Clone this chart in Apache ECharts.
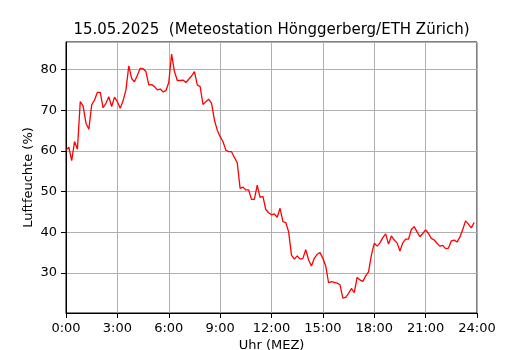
<!DOCTYPE html>
<html>
<head>
<meta charset="utf-8">
<script src="https://cdn.jsdelivr.net/npm/echarts@6/dist/echarts.min.js"></script>
<style>
html,body{margin:0;padding:0;background:#fff;}
#chart{width:530px;height:350px;}
</style>
</head>
<body>
<div id="chart"></div>
<script>
const titleText = '15.05.2025  (Meteostation Hönggerberg/ETH Zürich)';
const yAxisName = 'Luftfeuchte (%)';
const xAxisName = 'Uhr (MEZ)';
const stepMinutes = 10;
// relative humidity, 10-minute samples from 0:00 to 23:50
const humidity = [
  60.2, 60.9, 57.6, 62.3, 60.4, 72.1, 71.0, 66.8, 65.3, 71.3, 72.5, 74.4,
  74.4, 70.6, 71.7, 73.3, 70.9, 73.2, 72.1, 70.5, 72.3, 75.0, 80.9, 77.8,
  77.0, 78.6, 80.3, 80.2, 79.5, 76.2, 76.3, 75.8, 75.0, 75.2, 74.5, 74.8,
  76.8, 83.8, 79.5, 77.3, 77.3, 77.4, 76.8, 77.6, 78.4, 79.5, 76.2, 75.8,
  71.4, 72.1, 72.7, 71.7, 67.6, 65.1, 63.5, 62.3, 60.2, 59.8, 59.8, 58.4,
  57.1, 50.8, 51.1, 50.4, 50.4, 48.1, 48.1, 51.6, 48.6, 48.8, 45.6, 44.8,
  44.3, 44.5, 43.7, 45.9, 42.6, 42.4, 40.1, 34.4, 33.4, 34.2, 33.4, 33.6,
  35.7, 33.2, 31.7, 33.6, 34.6, 35.0, 33.6, 31.7, 27.6, 27.9, 27.7, 27.5,
  27.1, 23.8, 24.0, 25.0, 26.2, 25.2, 28.9, 28.3, 27.9, 29.3, 30.3, 34.4,
  37.3, 36.6, 37.4, 38.7, 39.6, 37.1, 39.1, 38.1, 37.4, 35.4, 37.4, 38.3,
  38.3, 40.7, 41.4, 40.1, 38.9, 39.7, 40.6, 39.7, 38.5, 38.1, 37.3, 36.6,
  36.8, 36.0, 36.1, 37.9, 38.1, 37.6, 38.8, 40.7, 42.8, 42.0, 41.1, 42.4
];
const xTickHours = [0, 3, 6, 9, 12, 15, 18, 21, 24];
const yTicks = [30, 40, 50, 60, 70, 80];

const seriesData = humidity.map((v, i) => [i * stepMinutes / 60, v]);

const chart = echarts.init(document.getElementById('chart'), null, {renderer: 'canvas'});
const font = 'DejaVu Sans';
chart.setOption({
  animation: false,
  backgroundColor: '#ffffff',
  title: {
    text: titleText,
    left: 271.5,
    top: 23,
    textAlign: 'center',
    padding: 0,
    textStyle: {fontFamily: font, fontSize: 15, fontWeight: 'normal', color: '#000'}
  },
  grid: {
    left: 66, right: 53, top: 42, bottom: 37,
    outerBoundsMode: 'none',
    containLabel: false,
    show: true, borderColor: '#000', borderWidth: 1, backgroundColor: 'transparent'
  },
  xAxis: {
    type: 'value',
    min: xTickHours[0],
    max: xTickHours[xTickHours.length - 1],
    interval: 3,
    name: xAxisName,
    nameLocation: 'middle',
    nameGap: 26,
    nameMoveOverlap: false,
    nameTextStyle: {fontFamily: font, fontSize: 13, color: '#000'},
    axisLine: {show: true, onZero: false, lineStyle: {color: '#000', width: 1}},
    axisTick: {show: true, inside: false, length: 5, lineStyle: {color: '#000'}},
    axisLabel: {
      margin: 9,
      fontFamily: font, fontSize: 13, color: '#000',
      formatter: v => Math.round(v) + ':00'
    },
    splitLine: {show: true, lineStyle: {color: '#b0b0b0', width: 1}}
  },
  yAxis: {
    type: 'value',
    min: 20.17,
    max: 86.76,
    minInterval: 10,
    maxInterval: 10,
    name: yAxisName,
    nameLocation: 'middle',
    nameGap: 31,
    nameMoveOverlap: false,
    nameRotate: 90,
    nameTextStyle: {fontFamily: font, fontSize: 13, color: '#000'},
    axisLine: {show: true, onZero: false, lineStyle: {color: '#000', width: 1}},
    axisTick: {show: true, inside: false, length: 5, lineStyle: {color: '#000'}},
    axisLabel: {
      margin: 9,
      showMinLabel: false, showMaxLabel: false,
      fontFamily: font, fontSize: 13, color: '#000',
      formatter: v => (yTicks.indexOf(Math.round(v)) >= 0 && Math.abs(v - Math.round(v)) < 1e-6) ? String(Math.round(v)) : ''
    },
    splitLine: {show: true, lineStyle: {color: '#b0b0b0', width: 1}}
  },
  series: [{
    type: 'line',
    data: seriesData,
    showSymbol: false,
    symbol: 'none',
    lineStyle: {color: '#ff0000', width: 1.3},
    z: 5
  }]
});
</script>
</body>
</html>
